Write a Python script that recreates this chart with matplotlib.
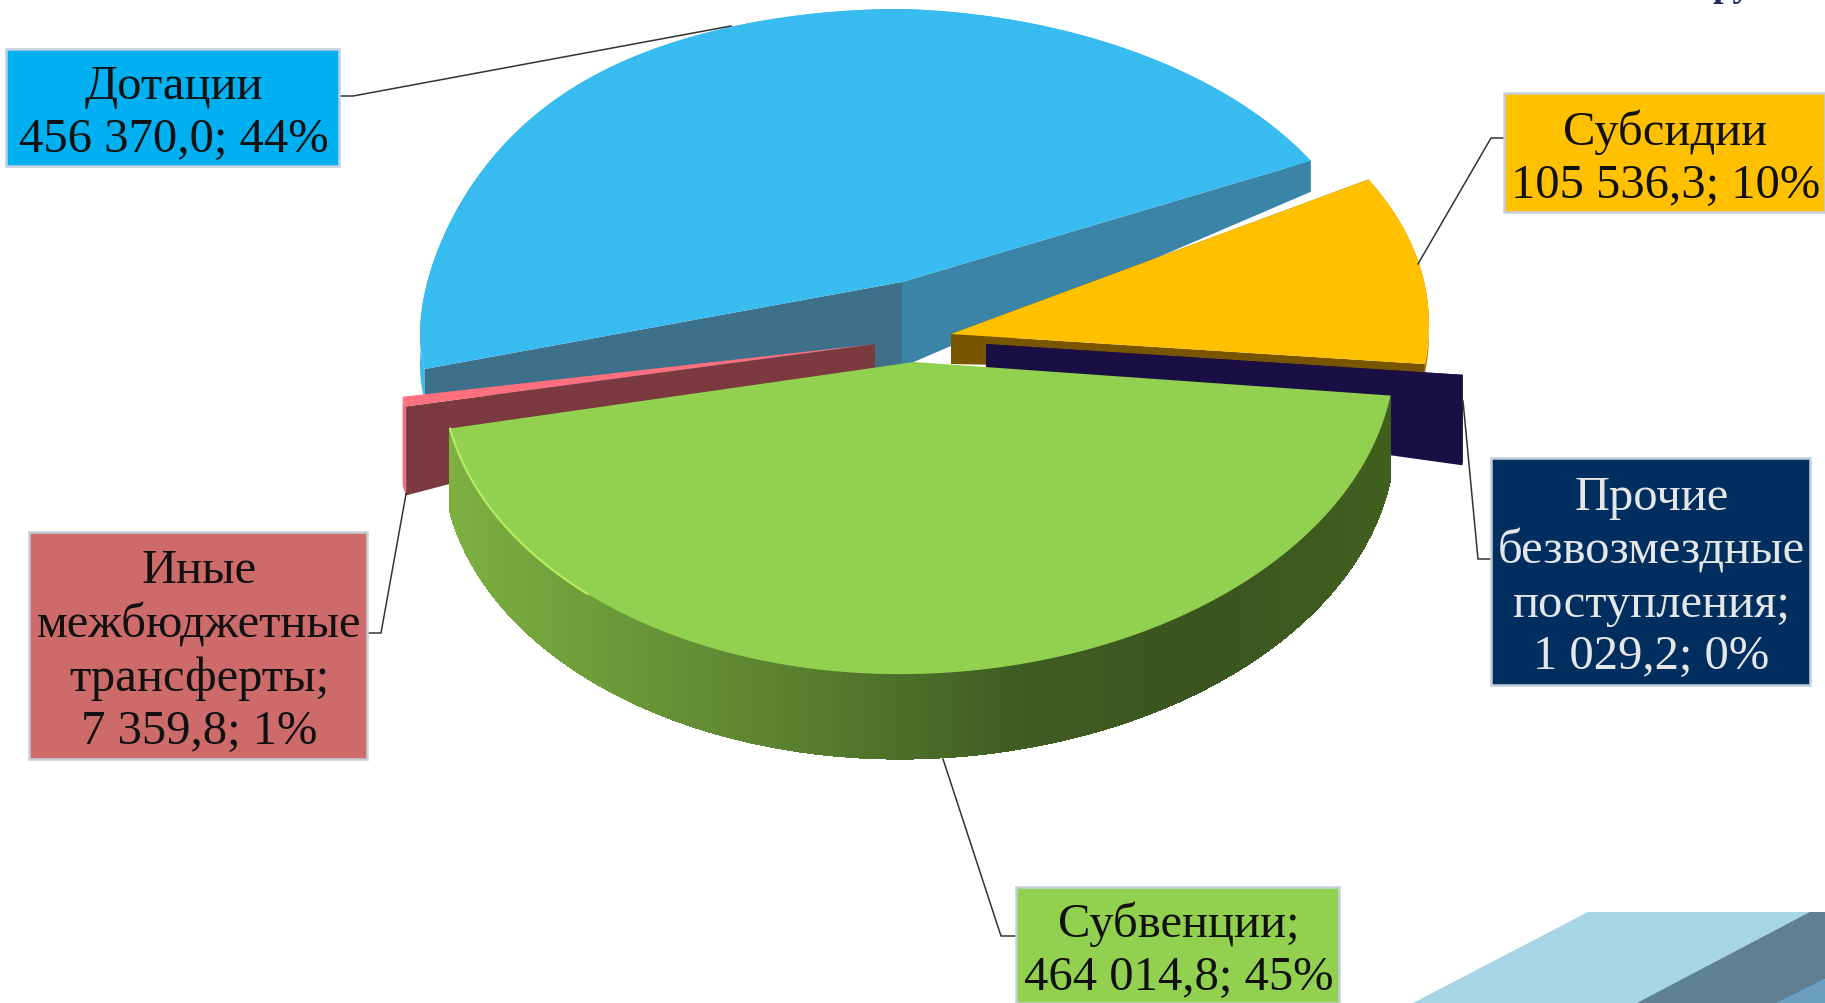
import numpy as np
import matplotlib
matplotlib.use('Agg')
import matplotlib.pyplot as plt
from matplotlib.colors import LinearSegmentedColormap
from matplotlib.patches import Polygon, Rectangle

# data, clockwise from the first slice
names = ['Дотации', 'Субсидии', 'Прочие\nбезвозмездные\nпоступления;', 'Субвенции;',
         'Иные\nмежбюджетные\nтрансферты;']
values = [456370.0, 105536.3, 1029.2, 464014.8, 7359.8]

# look of the fake 3d pie, all in pixels of the 1825x1004 picture
start_angle = 262
apex_x = [902, 951, 986, 914, 875]
apex_y = [283, 335, 345, 363, 345]
rad_left = [482, 482, 481, 472, 477]
rad_right = [468, 478, 481, 481, 477]
rad_b = [273, 300, 400, 312, 223]
shear_left = [0, -0.02, -0.046, -0.02, -0.046]
shear_right = [0.029, -0.02, -0.046, -0.02, -0.046]
droop = [52, 0, 0, 0, 0]
apex_depth = [85, 30, 55, 85, 28]
rim_depth = [31, 10, 88, 85, 89]
top_col = ['#38BBEF', '#FFC000', '#1A0F45', '#92D050', '#FF6F7D']
rim_col = ['#38BBEF', '#B98A00', '#1A0F45', '#5F8A33', '#F0707C']
start_face = ['#3A84A8', '#7A5500', '#1A0F45', '#3D5A20', '#7B3A40']
end_face = ['#3D7189', '#7A5500', '#1A0F45', '#3D5A20', '#7B3A40']
draw_order = [0, 1, 2, 4, 3]

box_x0 = [6, 1504, 1491, 1016, 29]
box_y0 = [50, 94, 459, 888, 533]
box_x1 = [339, 1825, 1810, 1339, 367]
box_y1 = [167, 213, 686, 1004, 760]
box_col = ['#00B0F0', '#FFC000', '#002F5F', '#92D050', '#CD6A6A']
txt_col = ['#111111', '#111111', '#E6E6E6', '#111111', '#111111']
leader_x = [[339, 353, 731], [1504, 1491, 1418], [1491, 1478, 1463], [1016, 1001, 943], [367, 381, 406]]
leader_y = [[97, 97, 27], [139, 139, 265], [560, 560, 402], [937, 937, 760], [634, 634, 495]]

fig = plt.figure(figsize=(18.25, 10.04), dpi=100)
ax = fig.add_axes([0, 0, 1, 1])
ax.set_xlim(0, 1825)
ax.set_ylim(1004, 0)
ax.axis('off')

# corner decoration
ax.add_patch(Polygon([(1588, 913), (1825, 913), (1825, 1004), (1413, 1004)], fc='#A6D5E6', ec='none'))
ax.add_patch(Polygon([(1810, 913), (1825, 913), (1825, 980), (1777, 1004), (1637, 1004)], fc='#5F7F92', ec='none'))
ax.add_patch(Polygon([(1825, 980), (1825, 1004), (1777, 1004)], fc='#6A9FC0', ec='none'))

ax.text(1713, 4, 'ру', family='Liberation Serif', weight='bold', fontsize=27, color='#1F2A66', ha='left', va='bottom')

total = sum(values)
angles = np.cumsum([0] + [v / total * 360 for v in values]) + start_angle
green_map = LinearSegmentedColormap.from_list('g', ['#7DB041', '#6A9637', '#567C2E', '#3F5E22', '#3A5520', '#41601F'])


def rim_points(i, phi):
    t = np.radians(phi)
    u = np.sin(t)
    dx = np.where(u < 0, rad_left[i], rad_right[i]) * u
    tilt = np.where(u < 0, shear_left[i], shear_right[i]) * dx
    sag = droop[i] * np.where(u < 0, -u, 0) ** 6
    return apex_x[i] + dx, apex_y[i] - rad_b[i] * np.cos(t) + tilt + sag


for i in draw_order:
    phi = np.linspace(angles[i], angles[i + 1], 200)
    x, y = rim_points(i, phi)
    # rim
    if i == 3:
        for k in range(len(x) - 1):
            quad = [(x[k], y[k]), (x[k + 1], y[k + 1]), (x[k + 1], y[k + 1] + rim_depth[i]), (x[k], y[k] + rim_depth[i])]
            ax.add_patch(Polygon(quad, fc=green_map((x[k] - x.min()) / (x.max() - x.min())), ec='none', lw=0, aa=False))
    else:
        ax.fill(np.r_[x, x[::-1]], np.r_[y, y[::-1] + rim_depth[i]], color=rim_col[i], lw=0)
    # cut faces, the green slice shows none
    faces = []
    if i != 3:
        faces.append((angles[i], end_face[i]))
    if i not in (3, 4):
        faces.append((angles[i + 1], start_face[i]))
    for a, col in faces:
        xr, yr = rim_points(i, a)
        face = [(apex_x[i], apex_y[i]), (xr, yr), (xr, yr + rim_depth[i]), (apex_x[i], apex_y[i] + apex_depth[i])]
        ax.add_patch(Polygon(face, fc=col, ec='none'))
    # top
    ax.fill(np.r_[apex_x[i], x], np.r_[apex_y[i], y], color=top_col[i], lw=0)
    if i == 3:
        # light edge on the left of the green slice
        ax.plot(x[-45:], y[-45:], color='#B4EC62', lw=1.6, solid_capstyle='round')

for i in range(len(values)):
    ax.plot(leader_x[i], leader_y[i], color='#333333', lw=1.1, zorder=4)
    ax.add_patch(Rectangle((box_x0[i], box_y0[i]), box_x1[i] - box_x0[i], box_y1[i] - box_y0[i],
                           fc=box_col[i], ec='#C3CFDB', lw=1.8, zorder=5))
    num = f'{values[i]:,.1f}'.replace(',', ' ').replace('.', ',')
    label = f'{names[i]}\n{num}; {round(values[i] / total * 100)}%'
    ax.text((box_x0[i] + box_x1[i]) / 2 + 1, (box_y0[i] + box_y1[i]) / 2 + 5, label, family='Liberation Serif',
            fontsize=35, color=txt_col[i], ha='center', va='center', linespacing=1.26, zorder=6)

fig.savefig('out.png', dpi=100)
